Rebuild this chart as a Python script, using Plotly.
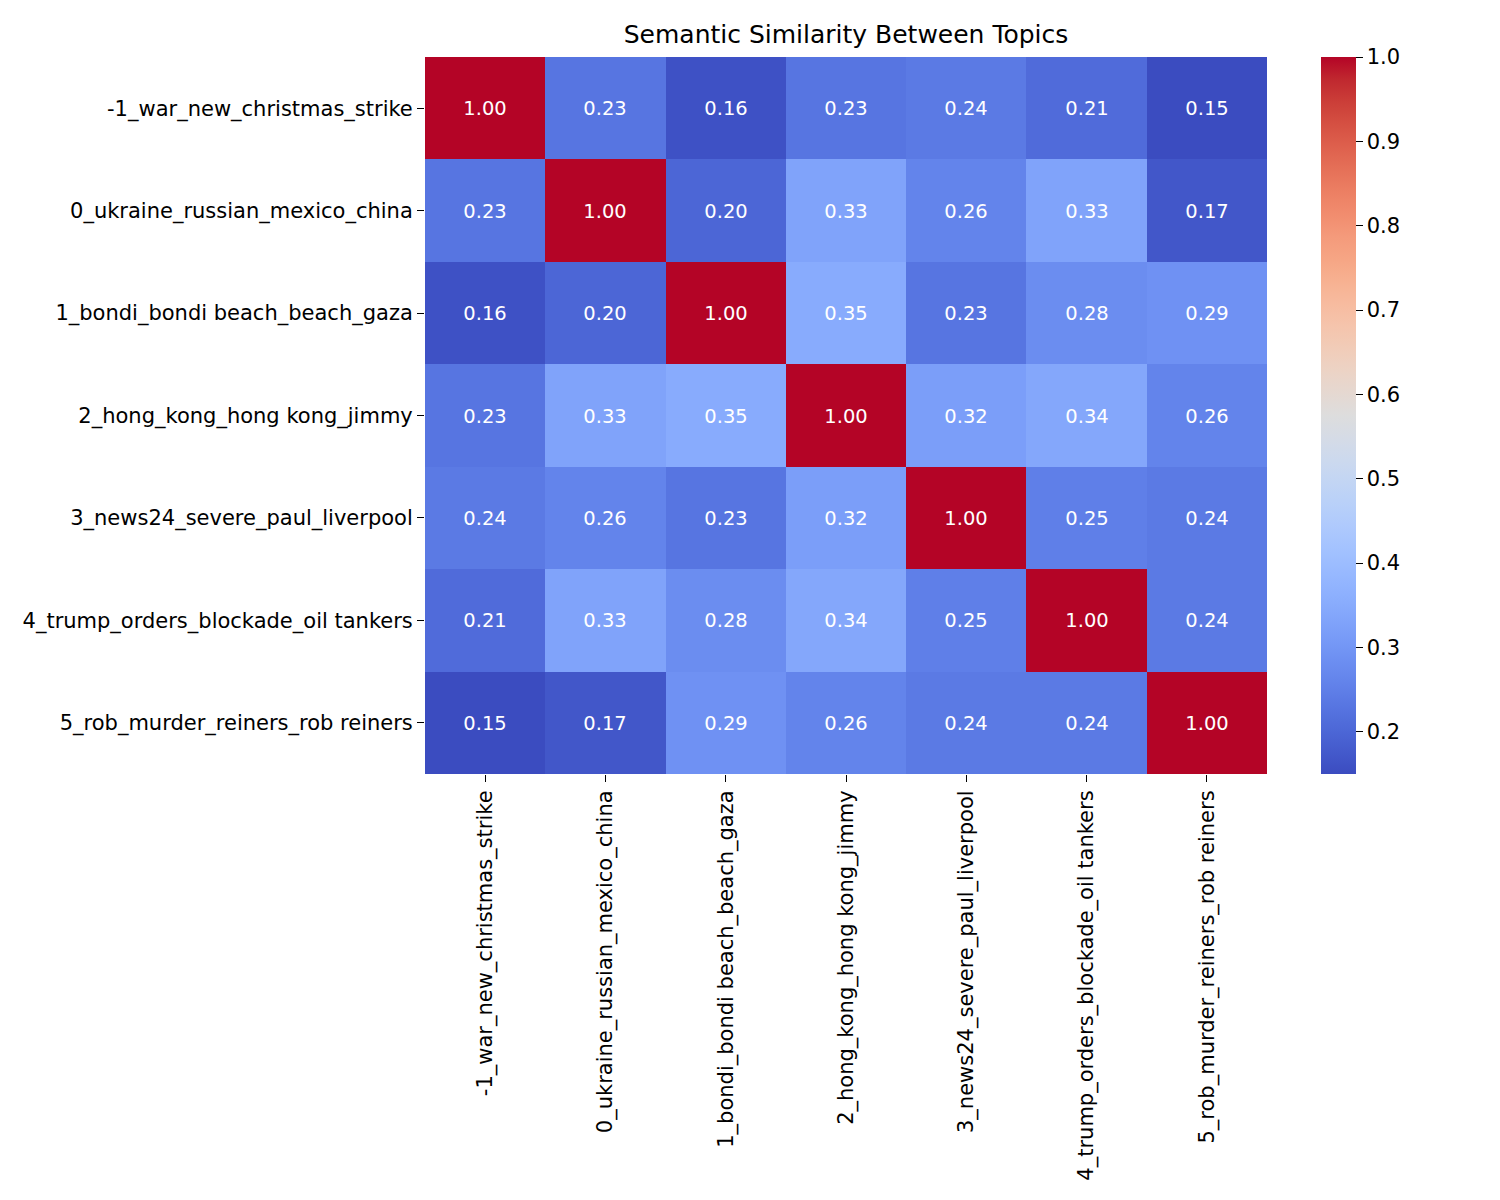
import plotly.graph_objects as go

topics = [
    "-1_war_new_christmas_strike",
    "0_ukraine_russian_mexico_china",
    "1_bondi_bondi beach_beach_gaza",
    "2_hong_kong_hong kong_jimmy",
    "3_news24_severe_paul_liverpool",
    "4_trump_orders_blockade_oil tankers",
    "5_rob_murder_reiners_rob reiners",
]

row_0 = [1.00, 0.23, 0.16, 0.23, 0.24, 0.21, 0.15]
row_1 = [0.23, 1.00, 0.20, 0.33, 0.26, 0.33, 0.17]
row_2 = [0.16, 0.20, 1.00, 0.35, 0.23, 0.28, 0.29]
row_3 = [0.23, 0.33, 0.35, 1.00, 0.32, 0.34, 0.26]
row_4 = [0.24, 0.26, 0.23, 0.32, 1.00, 0.25, 0.24]
row_5 = [0.21, 0.33, 0.28, 0.34, 0.25, 1.00, 0.24]
row_6 = [0.15, 0.17, 0.29, 0.26, 0.24, 0.24, 1.00]
similarity = [row_0, row_1, row_2, row_3, row_4, row_5, row_6]

cbar_ticks = [0.2, 0.3, 0.4, 0.5, 0.6, 0.7, 0.8, 0.9, 1.0]

coolwarm_rgb = [
    (59, 76, 192), (68, 90, 204), (77, 104, 215), (87, 117, 225), (98, 130, 234),
    (108, 142, 241), (119, 154, 247), (130, 165, 251), (141, 176, 254), (152, 185, 255),
    (163, 194, 255), (174, 201, 253), (184, 208, 249), (194, 213, 244), (204, 217, 238),
    (213, 219, 230), (221, 221, 221), (229, 216, 209), (236, 211, 197), (241, 204, 184),
    (245, 196, 172), (247, 187, 159), (247, 177, 145), (246, 165, 132), (244, 154, 123),
    (241, 140, 110), (236, 127, 99), (229, 112, 88), (222, 96, 77), (213, 80, 66),
    (203, 62, 56), (192, 40, 47), (180, 4, 38),
]
n = len(coolwarm_rgb) - 1
colorscale = [[i / n, "rgb(%d,%d,%d)" % c] for i, c in enumerate(coolwarm_rgb)]

zmin = min(min(r) for r in similarity)
zmax = max(max(r) for r in similarity)

FONT = "DejaVu Sans"

fig = go.Figure(
    go.Heatmap(
        z=similarity,
        x=topics,
        y=topics,
        colorscale=colorscale,
        zmin=zmin,
        zmax=zmax,
        texttemplate="%{z:.2f}",
        textfont=dict(family=FONT, size=19.5, color="white"),
        xgap=0,
        ygap=0,
        colorbar=dict(
            x=1.064,
            xanchor="left",
            xpad=0,
            y=0.5,
            yanchor="middle",
            len=1.0,
            lenmode="fraction",
            thickness=35,
            thicknessmode="pixels",
            outlinewidth=0,
            tickvals=cbar_ticks,
            ticktext=["%.1f" % t for t in cbar_ticks],
            ticks="outside",
            ticklen=7,
            tickwidth=1.2,
            tickcolor="black",
            tickfont=dict(family=FONT, size=21, color="black"),
            ypad=0,
        ),
    )
)

fig.update_layout(
    width=1500,
    height=1200,
    margin=dict(l=417, r=241, t=49, b=434),
    paper_bgcolor="white",
    plot_bgcolor="white",
    title=dict(
        text="Semantic Similarity Between Topics",
        x=((425 + 1267) / 2 - 8) / 1500,
        xanchor="center",
        y=1 - 26 / 1200,
        yanchor="middle",
        font=dict(family=FONT, size=25, color="black"),
    ),
    xaxis=dict(
        tickangle=-90,
        ticks="outside",
        ticklen=7,
        tickwidth=1.2,
        tickcolor="black",
        tickfont=dict(family=FONT, size=21, color="black"),
        showgrid=False,
        zeroline=False,
        showline=False,
    ),
    yaxis=dict(
        autorange="reversed",
        ticks="outside",
        ticklen=7,
        tickwidth=1.2,
        tickcolor="black",
        tickfont=dict(family=FONT, size=21, color="black"),
        showgrid=False,
        zeroline=False,
        showline=False,
    ),
)

fig.write_html("out.html")
